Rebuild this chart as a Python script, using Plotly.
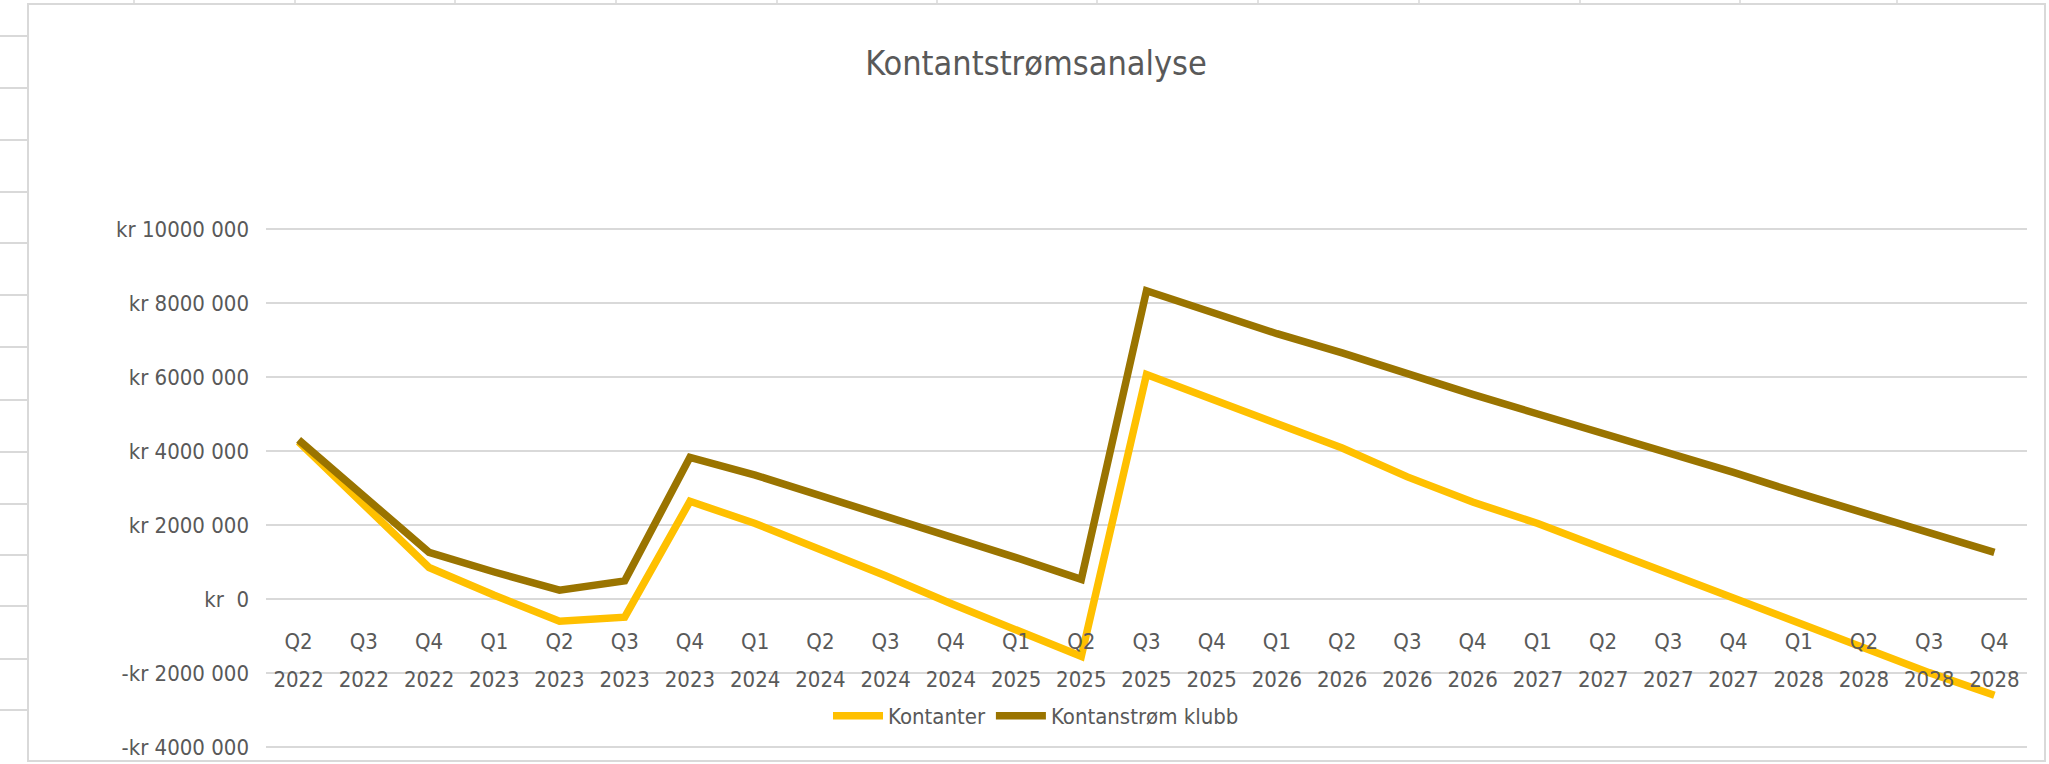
import plotly.graph_objects as go

# ---------------- data ----------------
quarters = ["Q2", "Q3", "Q4",
            "Q1", "Q2", "Q3", "Q4",
            "Q1", "Q2", "Q3", "Q4",
            "Q1", "Q2", "Q3", "Q4",
            "Q1", "Q2", "Q3", "Q4",
            "Q1", "Q2", "Q3", "Q4",
            "Q1", "Q2", "Q3", "Q4"]
years = ["2022"] * 3 + ["2023"] * 4 + ["2024"] * 4 + ["2025"] * 4 + \
        ["2026"] * 4 + ["2027"] * 4 + ["2028"] * 4
categories = [f"{q} {y}" for q, y in zip(quarters, years)]

kontanter = [4250000, 2520000, 850000, 100000, -600000, -490000, 2640000,
             2040000, 1360000, 630000, -120000, -830000, -1550000, 6070000,
             5390000, 4710000, 4080000, 3300000, 2620000, 2040000, 1360000,
             730000, 0, -630000, -1310000, -1990000, -2600000]
kontantstrom_klubb = [4300000, 2770000, 1260000, 730000, 240000, 490000, 3830000,
                      3350000, 2800000, 2230000, 1700000, 1120000, 530000, 8330000,
                      7750000, 7170000, 6650000, 6070000, 5530000, 5000000, 4470000,
                      3980000, 3420000, 2860000, 2330000, 1840000, 1260000]

series_names = ["Kontanter", "Kontanstrøm klubb"]
series_colors = ["#FFC000", "#9A7400"]

y_tick_vals = [10000000, 8000000, 6000000, 4000000, 2000000, 0, -2000000, -4000000]
y_tick_text = ["kr 10000\u00a0000", "kr 8000\u00a0000", "kr 6000\u00a0000",
               "kr 4000\u00a0000", "kr 2000\u00a0000", "kr\u00a0\u00a00",
               "-kr 2000\u00a0000", "-kr 4000\u00a0000"]
title_text = "Kontantstrømsanalyse"

# ---------------- layout geometry (pixels) ----------------
W, H = 2049, 764
# inner value area (top gridline .. bottom gridline) in pixels
MT0, MB0 = 229, 17
E = 2  # extra pixels so that edge gridlines are not clipped
ML, MR, MT, MB = 266, 22, MT0 - E, MB0 - E
PW, PH = W - ML - MR, H - MT - MB
FONT = "Liberation Sans Narrow, Arial Narrow, DejaVu Sans Condensed, sans-serif"
TXT = "#595959"
GRID = "#D9D9D9"
TICK_SIZE = 22


def px(x):
    return (x - ML) / PW


def py(y):
    return (H - MB - y) / PH


fig = go.Figure()
for name, vals, col in zip(series_names, [kontanter, kontantstrom_klubb], series_colors):
    fig.add_trace(go.Scatter(x=categories, y=vals, name=name, mode="lines",
                             line=dict(color=col, width=7.5),
                             hovertemplate="%{x}: %{y:,.0f}<extra>" + name + "</extra>"))
# helper (empty) trace so that the second category axis (year row) is drawn
fig.add_trace(go.Scatter(x=categories, y=[None] * len(categories), xaxis="x2",
                         showlegend=False, hoverinfo="skip", mode="lines"))

ymin, ymax = y_tick_vals[-1], y_tick_vals[0]
eps = (ymax - ymin) * E / (H - MT0 - MB0)
yrange = [ymin - eps, ymax + eps]
zero_pos = (0 - yrange[0]) / (yrange[1] - yrange[0])
xrange = [-0.5, len(categories) - 0.5]

shapes = []
# chart area frame
shapes.append(dict(type="rect", xref="paper", yref="paper",
                   x0=px(28), x1=px(2045), y0=py(761), y1=py(4),
                   line=dict(color=GRID, width=2), layer="below"))
# spreadsheet cell lines outside the chart frame
for yy in [36, 88, 140, 192, 243, 295, 347, 400, 452, 504, 555, 606, 659, 710]:
    shapes.append(dict(type="line", xref="paper", yref="paper",
                       x0=px(0), x1=px(27), y0=py(yy), y1=py(yy),
                       line=dict(color=GRID, width=2)))
for xx in [134, 295, 455, 616, 777, 937, 1097, 1258, 1419, 1580, 1740, 1897]:
    shapes.append(dict(type="line", xref="paper", yref="paper",
                       x0=px(xx), x1=px(xx), y0=py(0), y1=py(4),
                       line=dict(color=GRID, width=1.5)))

common_x = dict(type="category", categoryorder="array", categoryarray=categories,
                range=xrange, anchor="free", position=zero_pos, side="bottom",
                showgrid=False, showline=False, zeroline=False, ticks="",
                tickangle=0, fixedrange=True,
                tickfont=dict(family=FONT, size=TICK_SIZE, color=TXT))

fig.update_layout(
    width=W, height=H,
    margin=dict(l=ML, r=MR, t=MT, b=MB, autoexpand=False),
    paper_bgcolor="white", plot_bgcolor="white",
    font=dict(family=FONT, color=TXT, size=TICK_SIZE),
    title=dict(text=title_text, xref="container", yref="container",
               x=1036 / W, y=1 - 63 / H, xanchor="center", yanchor="middle",
               font=dict(family=FONT, size=34, color=TXT)),
    showlegend=True,
    legend=dict(orientation="h", xref="paper", yref="paper",
                x=px(1036), y=py(716), xanchor="center", yanchor="middle",
                font=dict(family=FONT, size=TICK_SIZE, color=TXT),
                bgcolor="rgba(0,0,0,0)", itemwidth=50, traceorder="normal"),
    xaxis=dict(**common_x, tickvals=categories, ticktext=quarters,
               ticklabelstandoff=27),
    xaxis2=dict(**common_x, overlaying="x", tickvals=categories, ticktext=years,
                ticklabelstandoff=65),
    yaxis=dict(range=yrange, tickvals=y_tick_vals, ticktext=y_tick_text,
               showgrid=True, gridcolor=GRID, gridwidth=2,
               zeroline=False, showline=False, ticks="",
               ticklabelstandoff=16, fixedrange=True,
               tickfont=dict(family=FONT, size=TICK_SIZE, color=TXT)),
    shapes=shapes,
)

fig.write_html(
    "out.html",
    config={"displayModeBar": False},
    post_script="document.body.style.margin='0';document.body.style.overflow='hidden';",
)
